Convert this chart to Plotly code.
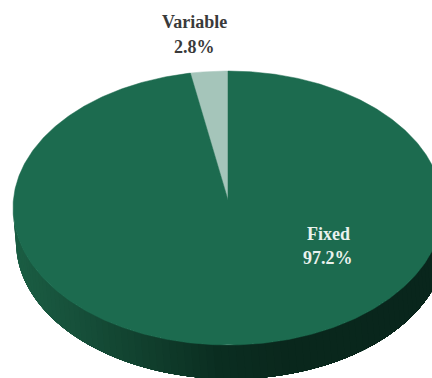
import numpy as np
import plotly.graph_objects as go

# Pie contents, drawn counter-clockwise from the top
labels = ["Variable", "Fixed"]
shares = [2.8, 97.2]
face_colors = ["#a5c5ba", "#1c6b4f"]
label_colors = ["#3a3a3a", "#e9f1ed"]

# Shading of the rim, from the left edge to the right edge
rim_stops_x = [13, 60, 110, 160, 216, 283, 443]
rim_stops_rgb = [(27, 94, 68), (24, 84, 61), (20, 72, 52), (16, 60, 43), (11, 46, 33), (10, 40, 29), (9, 38, 28)]

CX, CY, RX, RY, DEPTH = 228, 208, 215, 137, 34
BASE_SHIFT = 3
APEX_Y = 200
W, H = 432, 378


def rim_point(theta, drop=0.0, shift=0.0):
    """Point on the pie edge; theta runs counter-clockwise from 12 o'clock."""
    return CX + shift - RX * np.sin(theta), CY - RY * np.cos(theta) + drop


fig = go.Figure()

# Rim: each band runs from its own start to the far right end, so the next
# band paints over it and no seams show between them
RIM_END = 3 * np.pi / 2
band_starts = np.linspace(np.pi / 2, RIM_END, 91)[:-1]
step = band_starts[1] - band_starts[0]
for a in band_starts:
    t = np.linspace(a, RIM_END, 60)
    xt, yt = rim_point(t)
    xb, yb = rim_point(t[::-1], DEPTH, BASE_SHIFT)
    xm = rim_point(a + step / 2)[0]
    rgb = [int(np.interp(xm, rim_stops_x, [c[k] for c in rim_stops_rgb])) for k in range(3)]
    fig.add_trace(go.Scatter(
        x=np.r_[xt, xb], y=np.r_[yt, yb], mode="none", fill="toself",
        fillcolor=f"rgb({rgb[0]},{rgb[1]},{rgb[2]})",
        hoverinfo="skip", showlegend=False,
    ))

# Top face: one wedge per share, starting at 12 o'clock and going counter-clockwise
start = 0.0
total = sum(shares)
for share, color in zip(shares, face_colors):
    sweep = 2 * np.pi * share / total
    t = np.linspace(start, start + sweep, max(3, int(share * 6)))
    xe, ye = rim_point(t)
    fig.add_trace(go.Scatter(
        x=np.r_[CX, xe, CX], y=np.r_[APEX_Y, ye, APEX_Y], mode="lines", fill="toself",
        fillcolor=color, line=dict(color=color, width=0.5),
        hoverinfo="skip", showlegend=False,
    ))
    start += sweep

# Slice captions
caption_pos = {"Variable": (194, 22, 47), "Fixed": (328, 234, 258)}
for name, share, color in zip(labels, shares, label_colors):
    x, y1, y2 = caption_pos[name]
    for text, y in ((name, y1), (f"{share}%", y2)):
        fig.add_annotation(
            x=x, y=y, text=f"<b>{text}</b>", showarrow=False,
            font=dict(family="Liberation Serif", size=18, color=color),
        )

fig.update_layout(
    width=W, height=H, margin=dict(l=0, r=0, t=0, b=0),
    paper_bgcolor="white", plot_bgcolor="white",
    xaxis=dict(range=[0, W], visible=False, fixedrange=True),
    yaxis=dict(range=[H, 0], visible=False, fixedrange=True),
)
fig.write_html("out.html", config={"displayModeBar": False})
